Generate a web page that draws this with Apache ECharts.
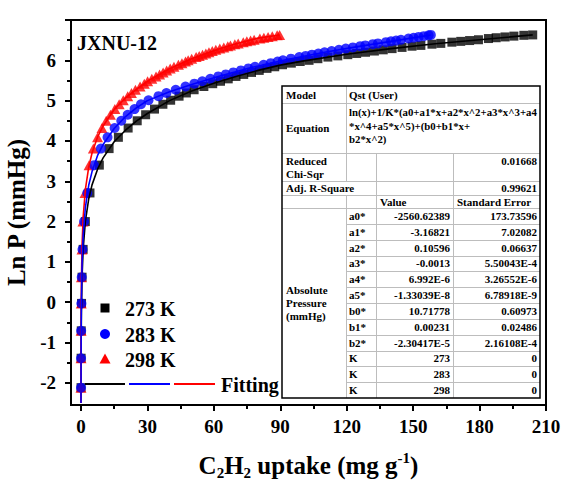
<!DOCTYPE html>
<html>
<head>
<meta charset="utf-8">
<script src="https://cdn.jsdelivr.net/npm/echarts@6/dist/echarts.min.js"></script>
<style>
html, body { margin: 0; padding: 0; background: #fff; }
#chart { width: 565px; height: 484px; }
</style>
</head>
<body>
<div id="chart"></div>
<script>
// Ln P (mmHg) of the measured pressure points, shared by the three isotherms
const lnP = [-2.12, -1.39, -0.71, -0.03, 0.62, 1.31, 2.00, 2.71, 3.40,
  3.81, 4.09, 4.32, 4.50, 4.65, 4.79, 4.91, 5.01, 5.11, 5.19,
  5.27, 5.35, 5.42, 5.48, 5.54, 5.60, 5.65, 5.70, 5.75, 5.80,
  5.84, 5.89, 5.93, 5.97, 6.00, 6.04, 6.08, 6.11, 6.14, 6.17,
  6.20, 6.23, 6.26, 6.29, 6.32, 6.35, 6.37, 6.40, 6.42, 6.45,
  6.47, 6.49, 6.51, 6.54, 6.56, 6.58, 6.60, 6.62, 6.63];

// C2H2 uptake (mg g-1) at each pressure point
const uptake273 = [0.03, 0.065, 0.13, 0.26, 0.49, 0.98, 1.98, 4.07, 8.3,
  12.7, 16.9, 21.3, 25.4, 29.2, 33.2, 37.0, 40.5, 44.3, 47.6,
  51.1, 55.5, 59.5, 63.0, 66.5, 70.0, 73.5, 77.0, 80.5, 84.0,
  87.5, 91.0, 95.0, 99.0, 103.0, 107.0, 111.5, 116.0, 120.5, 124.5,
  128.5, 132.5, 136.5, 140.5, 145.0, 149.5, 153.5, 158.5, 162.5, 167.5,
  171.5, 175.5, 179.5, 184.0, 187.5, 191.5, 195.5, 200.0, 204.0];
const uptake283 = [0.023, 0.047, 0.093, 0.183, 0.35, 0.70, 1.41, 2.87, 5.9,
  9.0, 12.0, 15.2, 18.2, 21.1, 24.2, 27.1, 30.5, 35.0, 38.6,
  42.8, 47.2, 51.2, 54.8, 58.4, 62.0, 65.4, 68.8, 72.2, 75.6,
  78.6, 82.5, 85.7, 88.8, 91.2, 94.8, 98.6, 101.5, 104.3, 107.2,
  110.0, 113.2, 116.5, 119.6, 122.8, 126.1, 128.4, 131.8, 134.1, 137.7,
  140.0, 142.3, 144.5, 147.9, 150.2, 152.5, 154.8, 157.0, 158.0];
const uptake298 = [0.014, 0.030, 0.059, 0.116, 0.222, 0.443, 0.88, 1.82, 3.65,
  5.6, 7.5, 9.5, 11.4, 13.3, 15.3, 17.25, 19.1, 21.1, 22.8,
  24.6, 26.7, 28.6, 30.1, 32.0, 33.9, 35.5, 37.1, 38.7, 40.3,
  42.0, 44.0, 45.6, 47.2, 48.4, 50.0, 52.0, 53.4, 54.9, 56.4,
  57.8, 59.3, 60.9, 62.7, 64.5, 66.3, 67.5, 69.5, 71.0, 73.3,
  74.9, 76.6, 78.2, 80.8, 82.6, 84.5, 86.4, 88.6, 89.7];

// Fitted virial curves [uptake, Ln P]
const fit273 = [[0.0215, -2.5], [0.05, -1.66], [0.1, -0.97], [0.2, -0.27], [0.5, 0.64], [1, 1.33],
  [2, 2.01], [3.5, 2.56], [5, 2.91], [7.5, 3.30], [10, 3.58], [15, 3.98], [20, 4.26], [25, 4.49],
  [30, 4.68], [40, 5.00], [50, 5.24], [60, 5.43], [70, 5.60], [80, 5.75], [90, 5.88], [100, 5.98],
  [120, 6.15], [140, 6.29], [160, 6.41], [180, 6.51], [204, 6.63]];
const fit283 = [[0.0155, -2.5], [0.05, -1.33], [0.1, -0.63], [0.2, 0.06], [0.5, 0.97], [1, 1.66],
  [2, 2.35], [3.5, 2.90], [5, 3.24], [7.5, 3.64], [10, 3.91], [15, 4.31], [20, 4.60], [25, 4.82],
  [30, 5.00], [40, 5.22], [50, 5.40], [62, 5.60], [77, 5.82], [92, 6.01], [110, 6.20], [125, 6.34],
  [140, 6.47], [158, 6.63]];
const fit298 = [[0.0098, -2.5], [0.02, -1.79], [0.05, -0.87], [0.1, -0.18], [0.2, 0.51], [0.5, 1.43],
  [1, 2.12], [2, 2.80], [3.5, 3.35], [5, 3.70], [7.5, 4.10], [10, 4.37], [15, 4.78], [20, 5.06],
  [25, 5.28], [30, 5.48], [40, 5.79], [50, 6.04], [60, 6.24], [70, 6.41], [80, 6.55], [89.7, 6.63]];

// Axis ticks
const xTicks = [0, 30, 60, 90, 120, 150, 180, 210];
const xMinorTicks = [15, 45, 75, 105, 135, 165, 195];
const yTicks = [-2, -1, 0, 1, 2, 3, 4, 5, 6, 7];
const yLabels = [-2, -1, 0, 1, 2, 3, 4, 5, 6];
const yMinorTicks = [-1.5, -0.5, 0.5, 1.5, 2.5, 3.5, 4.5, 5.5, 6.5];

// Fit report table
const equationLines = ['ln(x)+1/K*(a0+a1*x+a2*x^2+a3*x^3+a4', '*x^4+a5*x^5)+(b0+b1*x+', 'b2*x^2)'];
const tableParams = ['a0*', 'a1*', 'a2*', 'a3*', 'a4*', 'a5*', 'b0*', 'b1*', 'b2*', 'K', 'K', 'K'];
const tableValues = ['-2560.62389', '-3.16821', '0.10596', '-0.0013', '6.992E-6', '-1.33039E-8',
  '10.71778', '0.00231', '-2.30417E-5', '273', '283', '298'];
const tableErrors = ['173.73596', '7.02082', '0.06637', '5.50043E-4', '3.26552E-6', '6.78918E-9',
  '0.60973', '0.02486', '2.16108E-4', '0', '0', '0'];

const FONT = '"Liberation Serif", "Times New Roman", serif';
const FONT_CSS = 'Liberation Serif, Times New Roman, serif';

function pairs(xs) { return xs.map((x, i) => [x, lnP[i]]); }

// ---- table drawing helpers ----
const TL = 282, TR = 540, C1 = 346, C2 = 376, C3 = 453;
const R0 = 86, R1 = 103, R2 = 153, R3 = 181, R4 = 195, R5 = 208, RB = 398;
const rowH = (RB - R5) / tableParams.length;

function tText(x, y, text, align, size) {
  return {
    type: 'text', x: x, y: y, z: 20, silent: true,
    style: { text: text, fill: '#000', align: align || 'left', verticalAlign: 'middle',
      font: 'bold ' + (size || 11) + 'px ' + FONT_CSS }
  };
}
function gLine(x1, y1, x2, y2) {
  return { type: 'line', z: 19, silent: true,
    shape: { x1: x1, y1: y1, x2: x2, y2: y2 },
    style: { stroke: '#bdbdbd', lineWidth: 1 } };
}

const table = [];
table.push({ type: 'rect', z: 18, silent: true,
  shape: { x: TL, y: R0, width: TR - TL, height: RB - R0 }, style: { fill: '#fff' } });
[R1, R2, R3, R4, R5].forEach(y => table.push(gLine(TL, y + 0.5, TR, y + 0.5)));
for (let i = 1; i < tableParams.length; i++) {
  const y = Math.round(R5 + i * rowH) + 0.5;
  table.push(gLine(C1, y, TR, y));
}
table.push(gLine(C1 + 0.5, R0, C1 + 0.5, R3));
table.push(gLine(C1 + 0.5, R4, C1 + 0.5, RB));
table.push(gLine(C2 + 0.5, R2, C2 + 0.5, RB));
table.push(gLine(C3 + 0.5, R2, C3 + 0.5, RB));
table.push({ type: 'rect', z: 21, silent: true,
  shape: { x: TL, y: R0, width: TR - TL, height: RB - R0 },
  style: { fill: 'none', stroke: '#000', lineWidth: 1.5 } });

table.push(tText(286, (R0 + R1) / 2, 'Model'));
table.push(tText(349, (R0 + R1) / 2, 'Qst (User)'));
table.push(tText(286, (R1 + R2) / 2, 'Equation'));
equationLines.forEach((s, i) => table.push(tText(349, 112 + i * 13.5, s, 'left', 10.8)));
table.push(tText(286, 160.5, 'Reduced'));
table.push(tText(286, 173.5, 'Chi-Sqr'));
table.push(tText(537, 160.5, '0.01668', 'right'));
table.push(tText(286, (R3 + R4) / 2, 'Adj. R-Square'));
table.push(tText(537, (R3 + R4) / 2, '0.99621', 'right'));
table.push(tText(380, (R4 + R5) / 2, 'Value'));
table.push(tText(457, (R4 + R5) / 2, 'Standard Error'));
tableParams.forEach((p, i) => {
  const y = R5 + (i + 0.5) * rowH;
  table.push(tText(349, y, p));
  table.push(tText(450, y, tableValues[i], 'right'));
  table.push(tText(537, y, tableErrors[i], 'right'));
});
const midP = (R5 + RB) / 2;
table.push(tText(286, midP - 13, 'Absolute'));
table.push(tText(286, midP, 'Pressure'));
table.push(tText(286, midP + 13, '(mmHg)'));

// ---- in-plot labels and key ----
const key = [
  tText(77, 43, 'JXNU-12', 'left', 20),
  { type: 'rect', z: 20, silent: true, shape: { x: 100.5, y: 303.5, width: 9, height: 9 }, style: { fill: '#000' } },
  { type: 'circle', z: 20, silent: true, shape: { cx: 105, cy: 334, r: 5 }, style: { fill: '#0000ff' } },
  { type: 'polygon', z: 20, silent: true, shape: { points: [[105, 353.5], [110.5, 363.5], [99.5, 363.5]] }, style: { fill: '#ff0000' } },
  tText(125, 309, '273 K', 'left', 20),
  tText(125, 335, '283 K', 'left', 20),
  tText(125, 360, '298 K', 'left', 20),
  { type: 'line', z: 20, silent: true, shape: { x1: 85, y1: 384, x2: 125, y2: 384 }, style: { stroke: '#000', lineWidth: 2 } },
  { type: 'line', z: 20, silent: true, shape: { x1: 129, y1: 384, x2: 170, y2: 384 }, style: { stroke: '#0000ff', lineWidth: 2 } },
  { type: 'line', z: 20, silent: true, shape: { x1: 174, y1: 384, x2: 215, y2: 384 }, style: { stroke: '#ff0000', lineWidth: 2 } },
  tText(221, 385, 'Fitting', 'left', 20)
];

const gridRect = { left: 71, top: 20, width: 475, height: 385, outerBoundsMode: 'none' };
const X_MIN = -4.5, X_MAX = 210, Y_MIN = -2.55, Y_MAX = 7;
const labelStyle = { fontSize: 19, fontWeight: 'bold', fontFamily: FONT, color: '#000' };

const option = {
  animation: false,
  backgroundColor: '#fff',
  grid: [
    Object.assign({ show: true, borderColor: '#000', borderWidth: 2, backgroundColor: 'transparent' }, gridRect),
    Object.assign({ show: false }, gridRect)
  ],
  xAxis: [
    {
      type: 'value', gridIndex: 0, min: X_MIN, max: X_MAX, position: 'bottom',
      axisLine: { show: true, onZero: false, lineStyle: { color: '#000', width: 2 } },
      axisTick: { show: true, inside: false, length: 6, customValues: xTicks, lineStyle: { color: '#000', width: 2 } },
      axisLabel: Object.assign({ customValues: xTicks, margin: 12 }, labelStyle),
      splitLine: { show: false },
      name: '{t|C}{s|2}{t|H}{s|2}{t| uptake (mg g}{p|-1}{t|)}',
      nameLocation: 'middle', nameGap: 45,
      nameTextStyle: {
        rich: {
          t: { fontSize: 25, fontWeight: 'bold', fontFamily: FONT, color: '#000', lineHeight: 30, verticalAlign: 'middle' },
          s: { fontSize: 15, fontWeight: 'bold', fontFamily: FONT, color: '#000', lineHeight: 14, verticalAlign: 'bottom' },
          p: { fontSize: 15, fontWeight: 'bold', fontFamily: FONT, color: '#000', lineHeight: 14, verticalAlign: 'top' }
        }
      }
    },
    {
      type: 'value', gridIndex: 1, min: X_MIN, max: X_MAX, position: 'bottom',
      axisLine: { show: false, onZero: false },
      axisTick: { show: true, inside: false, length: 4, customValues: xMinorTicks, lineStyle: { color: '#000', width: 2 } },
      axisLabel: { show: false }, splitLine: { show: false }
    }
  ],
  yAxis: [
    {
      type: 'value', gridIndex: 0, min: Y_MIN, max: Y_MAX, position: 'left',
      axisLine: { show: true, onZero: false, lineStyle: { color: '#000', width: 2 } },
      axisTick: { show: true, inside: false, length: 6, customValues: yTicks, lineStyle: { color: '#000', width: 2 } },
      axisLabel: Object.assign({ customValues: yLabels, margin: 15 }, labelStyle),
      splitLine: { show: false },
      name: 'Ln P (mmHg)', nameLocation: 'middle', nameGap: 34, nameRotate: 90,
      nameTextStyle: { fontSize: 25, fontWeight: 'bold', fontFamily: FONT, color: '#000' }
    },
    {
      type: 'value', gridIndex: 1, min: Y_MIN, max: Y_MAX, position: 'left',
      axisLine: { show: false, onZero: false },
      axisTick: { show: true, inside: false, length: 4, customValues: yMinorTicks, lineStyle: { color: '#000', width: 2 } },
      axisLabel: { show: false }, splitLine: { show: false }
    }
  ],
  series: [
    { name: '273 K', type: 'scatter', data: pairs(uptake273), symbol: 'rect', symbolSize: 9,
      itemStyle: { color: '#000' }, z: 2, silent: true },
    { name: '298 K', type: 'scatter', data: pairs(uptake298), symbol: 'triangle', symbolSize: [11, 10],
      itemStyle: { color: '#ff0000' }, z: 3, silent: true },
    { name: '283 K', type: 'scatter', data: pairs(uptake283), symbol: 'circle', symbolSize: 10,
      itemStyle: { color: '#0000ff' }, z: 4, silent: true },
    { name: 'Fit 273 K', type: 'line', data: fit273, symbol: 'none', smooth: false,
      lineStyle: { color: '#000', width: 1.6 }, z: 5, silent: true },
    { name: 'Fit 298 K', type: 'line', data: fit298, symbol: 'none', smooth: false,
      lineStyle: { color: '#ff0000', width: 1.6 }, z: 6, silent: true },
    { name: 'Fit 283 K', type: 'line', data: fit283, symbol: 'none', smooth: false,
      lineStyle: { color: '#0000ff', width: 1.6 }, z: 7, silent: true }
  ],
  graphic: { elements: table.concat(key) }
};

const chart = echarts.init(document.getElementById('chart'), null, { renderer: 'svg', width: 565, height: 484 });
chart.setOption(option);
</script>
</body>
</html>
